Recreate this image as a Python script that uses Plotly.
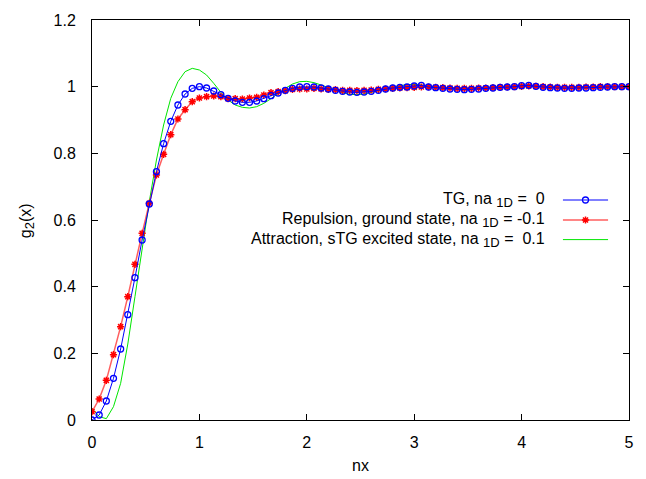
import plotly.graph_objects as go

nx = [0.0, 0.0667, 0.1333, 0.2, 0.2667, 0.3333, 0.4, 0.4667, 0.5333, 0.6,
      0.6667, 0.7333, 0.8, 0.8667, 0.9333, 1.0, 1.0667, 1.1333, 1.2, 1.2667,
      1.3333, 1.4, 1.4667, 1.5333, 1.6, 1.6667, 1.7333, 1.8, 1.8667, 1.9333,
      2.0, 2.0667, 2.1333, 2.2, 2.2667, 2.3333, 2.4, 2.4667, 2.5333, 2.6,
      2.6667, 2.7333, 2.8, 2.8667, 2.9333, 3.0, 3.0667, 3.1333, 3.2, 3.2667,
      3.3333, 3.4, 3.4667, 3.5333, 3.6, 3.6667, 3.7333, 3.8, 3.8667, 3.9333,
      4.0, 4.0667, 4.1333, 4.2, 4.2667, 4.3333, 4.4, 4.4667, 4.5333, 4.6,
      4.6667, 4.7333, 4.8, 4.8667, 4.9333, 5.0]

g2_tg = [0.0, 0.015, 0.057, 0.125, 0.213, 0.316, 0.427, 0.540, 0.648, 0.745,
         0.829, 0.896, 0.945, 0.978, 0.995, 1.000, 0.996, 0.987, 0.976, 0.965,
         0.957, 0.953, 0.953, 0.957, 0.964, 0.973, 0.981, 0.989, 0.995, 0.999,
         1.000, 0.999, 0.996, 0.993, 0.989, 0.986, 0.984, 0.983, 0.984, 0.986,
         0.989, 0.993, 0.996, 0.998, 0.999, 1.002, 1.004, 0.999, 0.997, 0.995,
         0.993, 0.992, 0.991, 0.992, 0.993, 0.995, 0.996, 0.998, 0.999, 1.000,
         1.003, 1.004, 1.001, 0.998, 0.997, 0.996, 0.995, 0.995, 0.996, 0.996,
         0.997, 0.998, 0.999, 1.000, 1.000, 1.000]

g2_rep = [0.025, 0.063, 0.119, 0.196, 0.280, 0.370, 0.467, 0.560, 0.650, 0.735,
          0.797, 0.856, 0.903, 0.931, 0.955, 0.966, 0.970, 0.972, 0.970, 0.964,
          0.964, 0.963, 0.966, 0.968, 0.975, 0.982, 0.985, 0.988, 0.992, 0.993,
          0.993, 0.995, 0.993, 0.992, 0.991, 0.989, 0.989, 0.988, 0.989, 0.990,
          0.992, 0.993, 0.995, 0.996, 0.997, 0.998, 0.999, 0.999, 0.998, 0.997,
          0.996, 0.995, 0.995, 0.995, 0.996, 0.996, 0.997, 0.998, 0.999, 1.000,
          1.001, 1.002, 1.001, 1.000, 0.999, 0.998, 0.998, 0.998, 0.998, 0.999,
          0.999, 1.000, 1.000, 1.000, 1.000, 1.000]

g2_att = [0.035, 0.010, 0.004, 0.040, 0.110, 0.228, 0.370, 0.510, 0.655, 0.780,
          0.885, 0.965, 1.015, 1.045, 1.055, 1.050, 1.035, 1.010, 0.983, 0.960,
          0.945, 0.938, 0.936, 0.940, 0.950, 0.964, 0.980, 0.995, 1.008, 1.015,
          1.016, 1.012, 1.005, 0.997, 0.989, 0.982, 0.977, 0.976, 0.978, 0.982,
          0.988, 0.994, 0.999, 1.003, 1.006, 1.007, 1.005, 1.002, 0.998, 0.995,
          0.993, 0.993, 0.994, 0.995, 0.997, 0.998, 0.999, 1.000, 1.001, 1.003,
          1.004, 1.004, 1.002, 1.000, 0.999, 0.998, 0.998, 0.998, 0.999, 1.000,
          1.000, 1.001, 1.001, 1.000, 1.001, 1.002]

SUB = '<sub><span style="font-size:13px">1D</span></sub>'
labels = ["TG, na " + SUB + " =  0",
          "Repulsion, ground state, na " + SUB + " = -0.1",
          "Attraction, sTG excited state, na " + SUB + " =  0.1"]

x_ticks = [0, 1, 2, 3, 4, 5]
y_ticks = [0, 0.2, 0.4, 0.6, 0.8, 1, 1.2]
y_tick_text = ["0", "0.2", "0.4", "0.6", "0.8", "1", "1.2"]

FONT = "Liberation Sans, Arial, sans-serif"
FS = 16
BLUE = "#0000ff"
RED = "#ff0000"
RED_LINE = "rgba(255,40,40,0.75)"
GREEN = "#00e600"

styles = [
    dict(line=dict(color=BLUE, width=1),
         marker=dict(symbol="circle-open", size=6, color=BLUE, line=dict(width=1.3)),
         mode="lines+markers"),
    dict(line=dict(color=RED_LINE, width=1.5),
         marker=dict(symbol="asterisk-open", size=6, color=RED, line=dict(width=1.5)),
         mode="lines+markers"),
    dict(line=dict(color=GREEN, width=1), mode="lines"),
]

fig = go.Figure()
series = [g2_tg, g2_rep, g2_att]
for ys, st in zip(series[::-1], styles[::-1]):
    fig.add_trace(go.Scatter(x=nx, y=ys, showlegend=False, **st))

# legend samples on an overlay axis (0..1 box coordinates)
rows = [0.550, 0.500, 0.451]
for yrow, st in zip(rows, styles):
    fig.add_trace(go.Scatter(x=[0.877, 0.961], y=[yrow, yrow], xaxis="x2", yaxis="y2",
                             mode="lines", line=st["line"],
                             showlegend=False, hoverinfo="skip"))
    if "marker" in st:
        fig.add_trace(go.Scatter(x=[0.919], y=[yrow], xaxis="x2", yaxis="y2", mode="markers",
                                 marker=st["marker"], showlegend=False, hoverinfo="skip"))

for yrow, txt in zip(rows, labels):
    fig.add_annotation(x=0.847, y=yrow, xref="paper", yref="paper", text=txt,
                       showarrow=False, xanchor="right", yanchor="middle",
                       font=dict(family=FONT, size=FS, color="black"))

fig.add_annotation(x=0.5, y=-0.114, xref="paper", yref="paper", text="nx",
                   showarrow=False, xanchor="center", yanchor="middle",
                   font=dict(family=FONT, size=FS, color="black"))
fig.add_annotation(x=-0.121, y=0.497, xref="paper", yref="paper",
                   text='g<sub><span style="font-size:13px">2</span></sub>(x)',
                   showarrow=False, xanchor="center", yanchor="middle", textangle=-90,
                   font=dict(family=FONT, size=FS, color="black"))

axis_common = dict(showgrid=False, zeroline=False, showline=True, linecolor="black",
                   linewidth=1, mirror="allticks", ticks="inside", ticklen=6,
                   tickcolor="black", tickwidth=1,
                   tickfont=dict(family=FONT, size=FS, color="black"))

fig.update_layout(
    width=646, height=479,
    margin=dict(l=92, r=17, t=17, b=59),
    plot_bgcolor="white", paper_bgcolor="white",
    xaxis=dict(range=[0, 5], tickvals=x_ticks, ticklabelstandoff=8, **axis_common),
    yaxis=dict(range=[0, 1.2], tickvals=y_ticks, ticktext=y_tick_text,
               ticklabelstandoff=12, **axis_common),
    xaxis2=dict(range=[0, 1], overlaying="x", visible=False),
    yaxis2=dict(range=[0, 1], overlaying="y", visible=False),
)

fig.write_html("out.html")
